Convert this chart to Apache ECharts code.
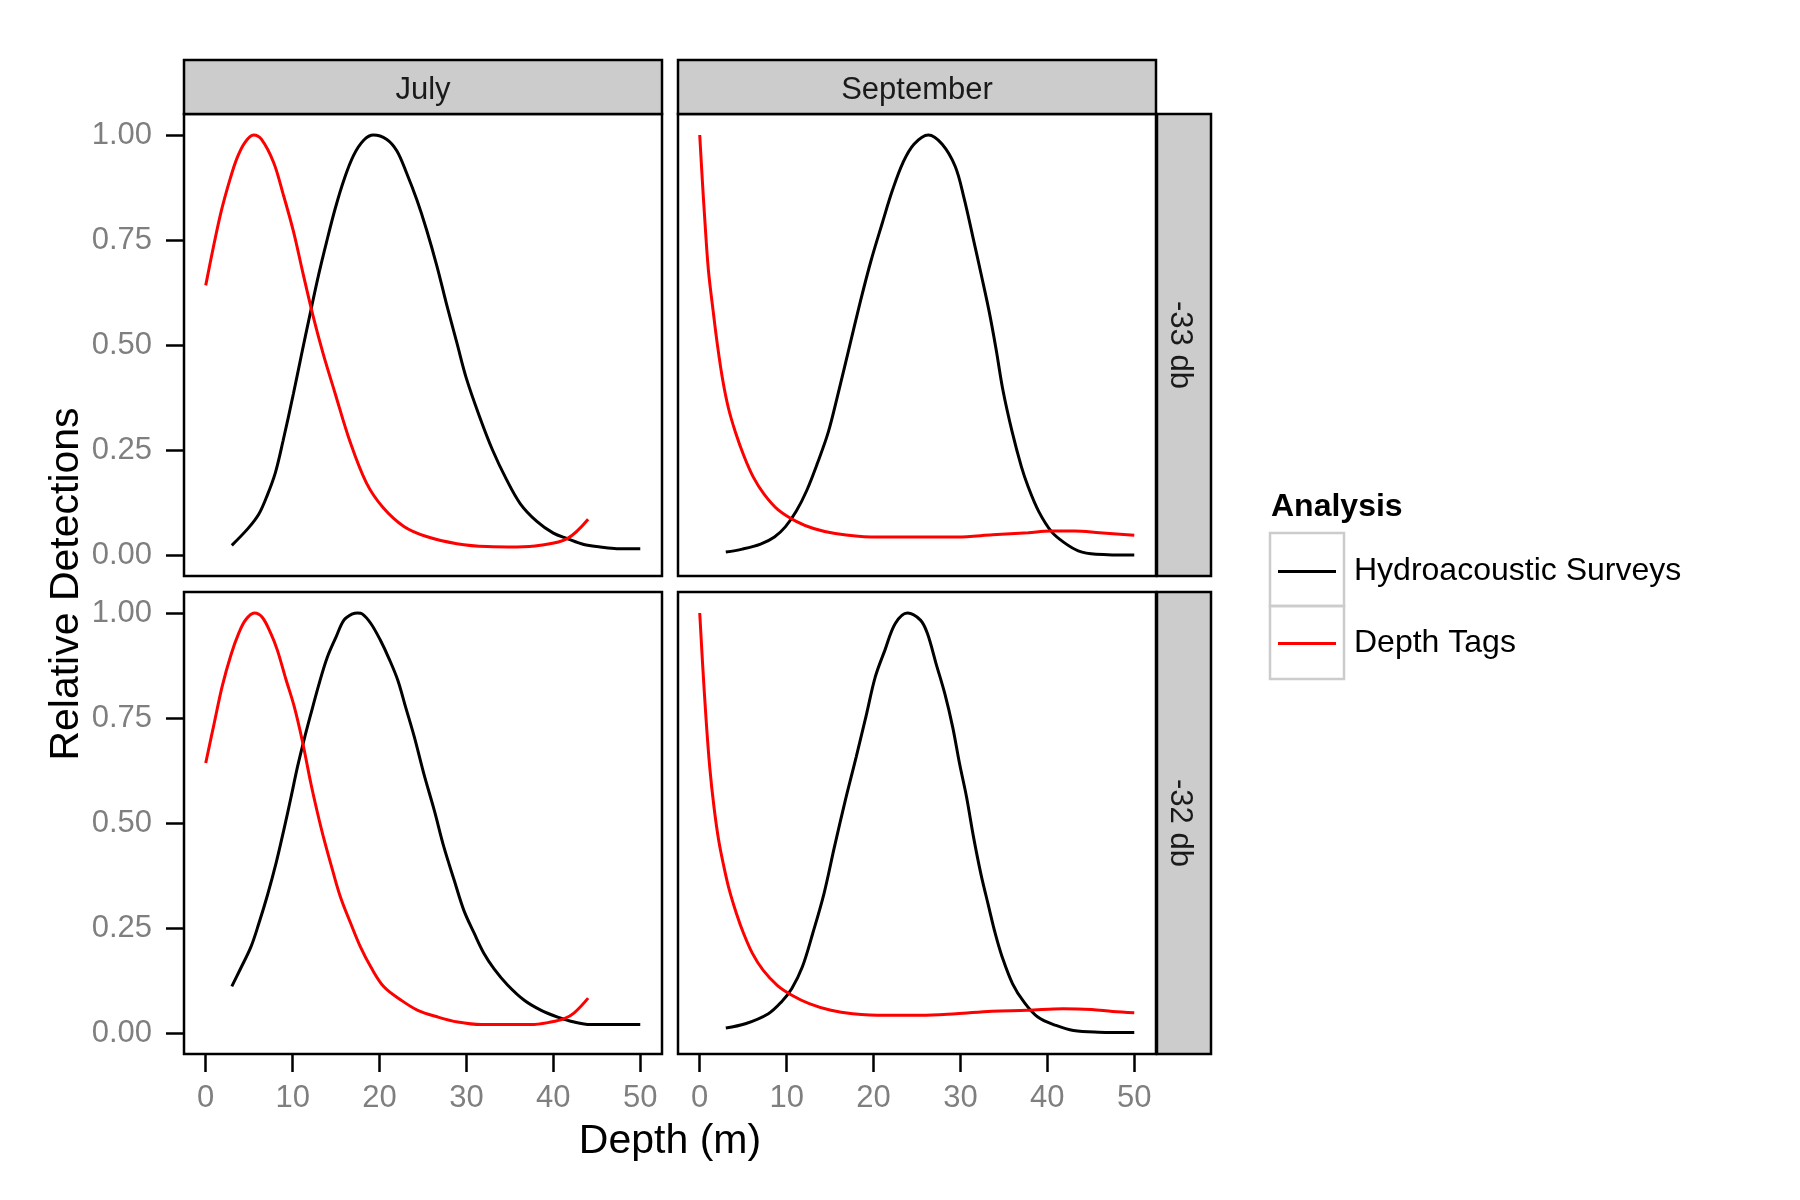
<!DOCTYPE html>
<html>
<head>
<meta charset="utf-8">
<script src="https://cdn.jsdelivr.net/npm/echarts@6/dist/echarts.min.js"></script>
<style>
html,body{margin:0;padding:0;background:#fff;}
#chart{width:1800px;height:1200px;}
</style>
</head>
<body>
<div id="chart"></div>
<script>
// ---- categories / labels ----
const months = ['July', 'September'];
const thresholds = ['-33 db', '-32 db'];
const seriesNames = ['Hydroacoustic Surveys', 'Depth Tags'];
const xTicks = [0, 10, 20, 30, 40, 50];
const yTicks = [0, 0.25, 0.5, 0.75, 1];
const xTitle = 'Depth (m)';
const yTitle = 'Relative Detections';
const legendTitle = 'Analysis';

// ---- data: [depth (m), relative detections] ----
const julyDb33Hydro = [[3,0.023],[4.9,0.064],[6.1,0.097],[7,0.138],[8,0.195],[8.9,0.272],[10.1,0.385],[11,0.475],[12,0.573],[13,0.668],[13.9,0.745],[14.9,0.825],[15.9,0.893],[17,0.951],[18.2,0.988],[19.3,1.0],[20.8,0.99],[22,0.962],[23.1,0.91],[24.3,0.845],[25.4,0.775],[26.6,0.688],[27.7,0.598],[28.9,0.505],[30,0.42],[31.5,0.33],[33,0.25],[34.6,0.18],[36.2,0.122],[38.1,0.08],[40,0.052],[41.6,0.039],[43.5,0.025],[45.4,0.019],[47.3,0.015],[50,0.015]];
const julyDb33Tags = [[0,0.642],[0.9,0.735],[1.8,0.82],[2.8,0.895],[3.6,0.945],[4.5,0.982],[5.5,1.0],[6.4,0.99],[7.8,0.935],[8.9,0.86],[10.1,0.77],[11.2,0.67],[12.4,0.565],[13.5,0.48],[14.9,0.384],[16.6,0.27],[18.5,0.171],[20.4,0.113],[22.8,0.068],[25.4,0.044],[28.9,0.027],[32.4,0.02],[35.8,0.019],[38.5,0.023],[41.6,0.039],[44,0.085]];
const septDb33Hydro = [[3,0.007],[4.9,0.014],[7,0.026],[8.6,0.043],[9.85,0.067],[11.1,0.104],[12.3,0.153],[13.55,0.219],[14.8,0.293],[16,0.391],[17.25,0.498],[18.5,0.605],[19.7,0.7],[21,0.79],[22.2,0.87],[23.4,0.935],[24.65,0.978],[26.3,1.0],[27.9,0.978],[29.4,0.925],[30.4,0.851],[31.4,0.76],[32.45,0.662],[33.3,0.58],[34.1,0.49],[34.9,0.391],[35.95,0.293],[37,0.211],[37.8,0.162],[39,0.104],[40.5,0.055],[41.9,0.03],[43.55,0.01],[45.6,0.002],[50,0]];
const septDb33Tags = [[0,1.0],[0.3,0.892],[0.6,0.793],[1.0,0.678],[1.55,0.58],[2.05,0.498],[2.65,0.416],[3.3,0.35],[4.1,0.293],[5.1,0.235],[6.15,0.186],[7.4,0.145],[9,0.108],[11.1,0.08],[13.1,0.063],[15.6,0.051],[19.7,0.043],[25.5,0.043],[29.6,0.043],[33.7,0.048],[37.8,0.053],[40.3,0.057],[43.1,0.057],[46,0.053],[50,0.047]];
const julyDb32Hydro = [[3,0.111],[4,0.153],[5.2,0.205],[6.1,0.26],[7.1,0.328],[8.1,0.405],[9,0.485],[9.8,0.56],[10.55,0.633],[11.3,0.697],[12.1,0.76],[13.05,0.832],[14,0.895],[15,0.943],[15.9,0.983],[16.9,0.998],[17.5,1.0],[18,0.998],[19,0.975],[20.1,0.935],[21.1,0.891],[22.1,0.84],[23,0.776],[24,0.705],[25.1,0.617],[26.3,0.53],[27.4,0.443],[28.6,0.363],[29.7,0.292],[30.9,0.237],[32,0.19],[33.2,0.152],[34.7,0.115],[36.65,0.078],[38.6,0.054],[40.5,0.038],[42.4,0.026],[44.3,0.02],[47.4,0.02],[50,0.02]];
const julyDb32Tags = [[0,0.643],[1,0.74],[1.9,0.826],[2.9,0.9],[3.8,0.952],[4.6,0.984],[5.6,1.0],[6.5,0.99],[7.5,0.951],[8.25,0.911],[9.2,0.844],[10.2,0.776],[11.1,0.697],[12.1,0.594],[12.85,0.525],[13.6,0.462],[14.6,0.387],[15.5,0.324],[16.7,0.26],[17.8,0.205],[19,0.157],[20.5,0.11],[22.5,0.078],[24.4,0.054],[26.7,0.038],[29,0.026],[31.7,0.02],[34.3,0.02],[37.4,0.02],[39.7,0.026],[41.25,0.034],[42.4,0.048],[44,0.083]];
const septDb32Hydro = [[3,0.012],[5.25,0.022],[7.9,0.046],[9.4,0.074],[10.6,0.106],[11.8,0.157],[13,0.237],[14.3,0.332],[15.5,0.443],[16.75,0.554],[18,0.657],[19.2,0.76],[20.2,0.848],[21.3,0.911],[22.5,0.975],[23.9,1.0],[25.4,0.983],[26.2,0.951],[27.2,0.879],[28.2,0.808],[29.1,0.729],[29.9,0.641],[30.7,0.562],[31.5,0.467],[32.35,0.379],[33.2,0.305],[34,0.237],[34.8,0.181],[36,0.117],[37.3,0.074],[38.9,0.038],[41,0.018],[43,0.006],[45.9,0.002],[50,0.001]];
const septDb32Tags = [[0,1.0],[0.33,0.879],[0.74,0.744],[1.15,0.633],[1.64,0.538],[2.18,0.459],[2.79,0.395],[3.41,0.34],[4.23,0.284],[5.05,0.237],[6.08,0.189],[7.31,0.149],[8.95,0.113],[10.6,0.09],[12.6,0.07],[15.1,0.054],[17.6,0.046],[21.3,0.042],[25.4,0.042],[29.5,0.046],[33.6,0.052],[37.7,0.054],[41.8,0.058],[45.1,0.056],[47.5,0.051],[50,0.048]];

const panelData = [
  [julyDb33Hydro, julyDb33Tags],
  [septDb33Hydro, septDb33Tags],
  [julyDb32Hydro, julyDb32Tags],
  [septDb32Hydro, septDb32Tags]
];
const lineColors = ['#000000', '#FF0000'];

// ---- layout ----
const FONT = '"Liberation Sans", Arial, sans-serif';
const colLeft = [184, 678];
const rowTop = [114, 592];
const PW = 478, PH = 462;

const grids = [], xAxes = [], yAxes = [], series = [];
for (let r = 0; r < 2; r++) {
  for (let c = 0; c < 2; c++) {
    const gi = r * 2 + c;
    grids.push({
      left: colLeft[c], top: rowTop[r], width: PW, height: PH,
      show: true, borderColor: '#000', borderWidth: 2.5, backgroundColor: '#fff',
      containLabel: false
    });
    const showX = r === 1, showY = c === 0;
    xAxes.push({
      type: 'value', gridIndex: gi, min: -2.5, max: 52.5, position: 'bottom',
      splitLine: { show: false }, axisLine: { show: false, onZero: false },
      axisTick: { show: showX, inside: false, length: 18, customValues: xTicks, lineStyle: { color: '#000', width: 2.5 } },
      axisLabel: { show: showX, customValues: xTicks, margin: 29, color: '#7f7f7f', fontSize: 31, fontFamily: FONT }
    });
    yAxes.push({
      type: 'value', gridIndex: gi, min: -0.05, max: 1.05, position: 'left',
      splitLine: { show: false }, axisLine: { show: false, onZero: false },
      axisTick: { show: showY, inside: false, length: 18, customValues: yTicks, lineStyle: { color: '#000', width: 2.5 } },
      axisLabel: { show: showY, customValues: yTicks, margin: 32, color: '#7f7f7f', fontSize: 31, fontFamily: FONT,
        padding: [8, 0, 0, 0], formatter: v => v.toFixed(2) }
    });
    for (let s = 0; s < 2; s++) {
      series.push({
        type: 'line', name: seriesNames[s], xAxisIndex: gi, yAxisIndex: gi,
        data: panelData[gi][s], showSymbol: false, symbol: 'none', smooth: 0.35,
        lineStyle: { color: lineColors[s], width: 3 },
        itemStyle: { color: lineColors[s] },
        z: s === 0 ? 3 : 4
      });
    }
  }
}

const graphic = [];
// top strips (months)
for (let c = 0; c < 2; c++) {
  graphic.push({ type: 'rect', shape: { x: colLeft[c], y: 60, width: PW, height: 54 },
    style: { fill: '#CCCCCC', stroke: '#000', lineWidth: 2.5 }, z: 10 });
  graphic.push({ type: 'text', x: colLeft[c] + PW / 2, y: 90.5, z: 11,
    style: { text: months[c], fontSize: 31, fontFamily: FONT, fill: '#1a1a1a', align: 'center', verticalAlign: 'middle' } });
}
// right strips (thresholds)
for (let r = 0; r < 2; r++) {
  graphic.push({ type: 'rect', shape: { x: 1157, y: rowTop[r], width: 54, height: PH },
    style: { fill: '#CCCCCC', stroke: '#000', lineWidth: 2.5 }, z: 10 });
  graphic.push({ type: 'text', x: 1180, y: rowTop[r] + PH / 2, rotation: -Math.PI / 2, z: 11,
    style: { text: thresholds[r], fontSize: 31, fontFamily: FONT, fill: '#1a1a1a', align: 'center', verticalAlign: 'middle' } });
}
// axis titles
graphic.push({ type: 'text', x: 67, y: (rowTop[0] + rowTop[1] + PH) / 2, rotation: Math.PI / 2,
  style: { text: yTitle, fontSize: 41, fontFamily: FONT, fill: '#000', align: 'center', verticalAlign: 'middle' } });
graphic.push({ type: 'text', x: (colLeft[0] + colLeft[1] + PW) / 2, y: 1142,
  style: { text: xTitle, fontSize: 41, fontFamily: FONT, fill: '#000', align: 'center', verticalAlign: 'middle' } });
// legend title and key boxes
graphic.push({ type: 'text', x: 1271, y: 507,
  style: { text: legendTitle, fontSize: 32, fontWeight: 'bold', fontFamily: FONT, fill: '#000', align: 'left', verticalAlign: 'middle' } });
for (let k = 0; k < 2; k++) {
  graphic.push({ type: 'rect', shape: { x: 1270, y: 533 + k * 73, width: 74, height: 73 },
    style: { fill: 'rgba(0,0,0,0)', stroke: '#CCCCCC', lineWidth: 2.5 }, z: 1 });
}

const option = {
  animation: false,
  backgroundColor: '#fff',
  grid: grids,
  xAxis: xAxes,
  yAxis: yAxes,
  series: series,
  legend: {
    data: seriesNames, orient: 'vertical', left: 1278, top: 555.5, padding: 0,
    itemGap: 40, itemWidth: 58, itemHeight: 3, icon: 'rect', selectedMode: false,
    textStyle: { fontSize: 32, fontFamily: FONT, color: '#000', lineHeight: 32, padding: [0, 0, 0, 13] }
  },
  graphic: graphic
};

const chart = echarts.init(document.getElementById('chart'), null, { renderer: 'canvas' });
chart.setOption(option);
</script>
</body>
</html>
